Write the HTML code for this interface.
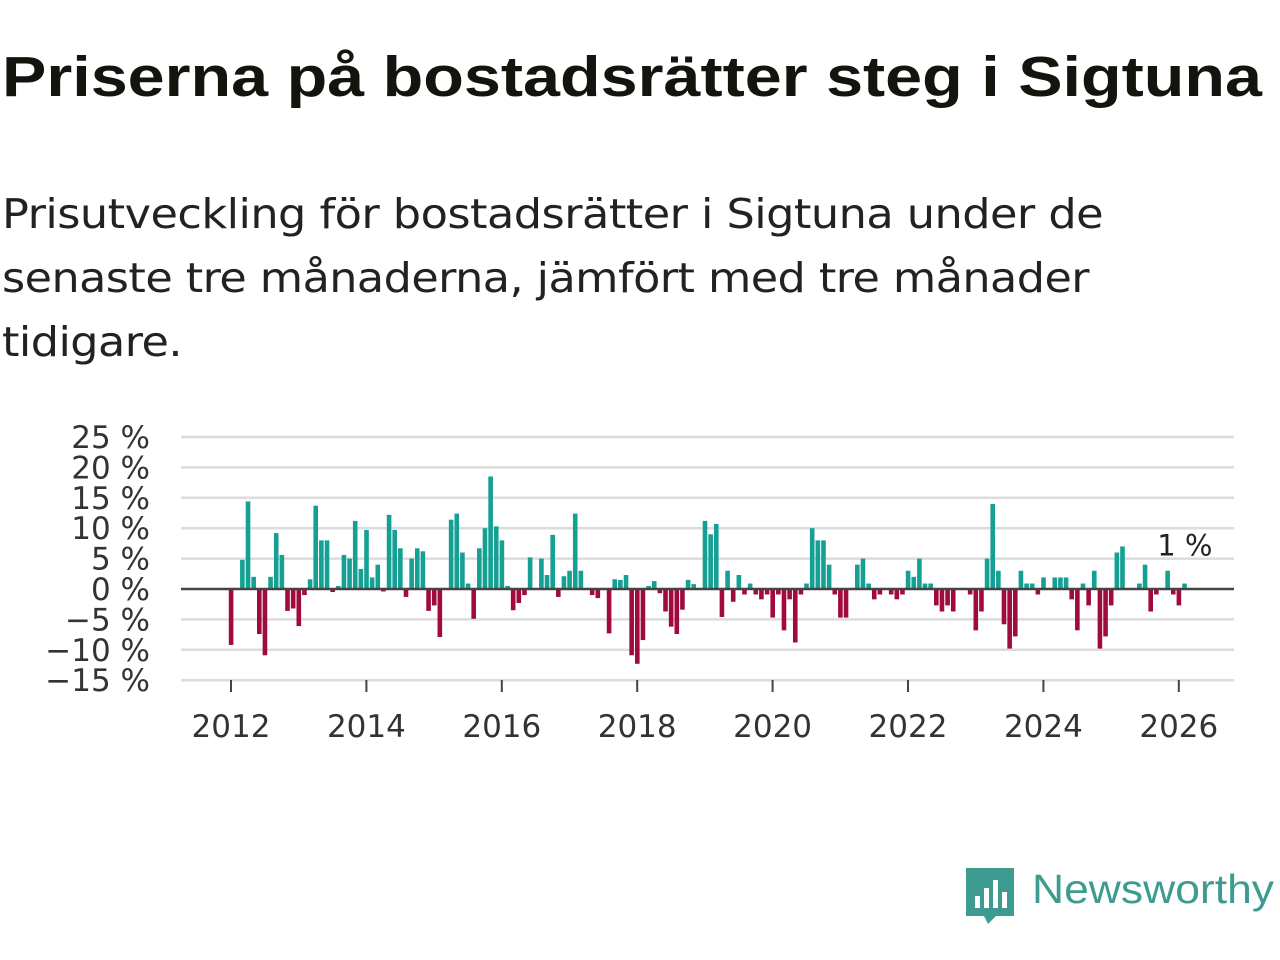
<!DOCTYPE html>
<html><head><meta charset="utf-8"><style>
body{margin:0;width:1280px;height:960px;background:#fff;font-family:"Liberation Sans","DejaVu Sans",sans-serif;overflow:hidden;position:relative}
.fit{position:absolute;left:2px;margin:0;white-space:nowrap;transform-origin:0 0;display:inline-block}
h1.fit{top:44px;font-size:57px;font-weight:bold;color:#14140f}
.sub{font-size:41px;color:#222;font-family:"DejaVu Sans",sans-serif;letter-spacing:-0.5px}
svg{position:absolute;left:0;top:0}
</style></head><body>
<h1 class="fit" data-w="1260">Priserna på bostadsrätter steg i Sigtuna</h1>
<span class="fit sub" style="top:190px" data-w="1101">Prisutveckling för bostadsrätter i Sigtuna under de</span>
<span class="fit sub" style="top:254px" data-w="1087">senaste tre månaderna, jämfört med tre månader</span>
<span class="fit sub" style="top:318px" data-w="180">tidigare.</span>
<svg id="chart" width="1280" height="960"></svg>
<script>
document.querySelectorAll('.fit').forEach(e=>{const w=e.getBoundingClientRect().width;e.style.transform='scaleX('+(parseFloat(e.dataset.w)/w)+')';});
const startYear = 2012;
const values = [
-9.2,0,4.8,14.4,2,-7.4,-10.9,2,9.2,5.6,-3.6,-3.2,
-6.1,-1,1.6,13.7,8,8,-0.5,0.5,5.6,5,11.2,3.3,
9.7,1.9,4,-0.4,12.2,9.7,6.7,-1.3,5,6.7,6.2,-3.6,
-2.7,-7.9,0,11.4,12.4,6,0.9,-4.9,6.7,10,18.5,10.3,
8,0.5,-3.5,-2.3,-1,5.2,0,5,2.3,8.9,-1.3,2.1,
3,12.4,3,0,-1,-1.5,0,-7.3,1.6,1.5,2.3,-10.9,
-12.3,-8.4,0.5,1.3,-0.7,-3.7,-6.2,-7.4,-3.4,1.5,0.8,0,
11.2,9,10.7,-4.6,3,-2.1,2.3,-0.9,0.9,-0.9,-1.7,-0.9,
-4.7,-0.9,-6.8,-1.7,-8.8,-0.9,0.9,10,8,8,4,-0.9,
-4.7,-4.7,0,4,5,0.9,-1.7,-0.9,0,-0.9,-1.7,-0.9,
3,2,5,0.9,0.9,-2.7,-3.7,-2.7,-3.7,0,0,-0.9,
-6.8,-3.7,5,14,3,-5.8,-9.8,-7.8,3,0.9,0.9,-0.9,
1.9,0,1.9,1.9,1.9,-1.7,-6.8,0.9,-2.7,3,-9.8,-7.8,
-2.7,6,7,0,0,0.9,4,-3.7,-0.9,0,3,-0.9,
-2.7,0.9];
const yTicks = [25,20,15,10,5,0,-5,-10,-15];
const xTicks = [2012,2014,2016,2018,2020,2022,2024,2026];
const lastLabel = "1 %";

const NS="http://www.w3.org/2000/svg";
const svg=document.getElementById('chart');
const y = v => 589 - v*6.08;
const x = t => 231 + (t - startYear)*67.7;
function mk(tag, attrs){const e=document.createElementNS(NS,tag);for(const k in attrs)e.setAttribute(k,attrs[k]);svg.appendChild(e);return e;}
yTicks.forEach(t=>{
  if(t!==0){const g=mk('line',{x1:181,x2:1234,y1:y(t),y2:y(t),stroke:'#dcdcdc','stroke-width':2.5});
  
  }
  const l=mk('text',{x:150,y:y(t)+11,'text-anchor':'end','font-size':31,fill:'#333','font-family':'DejaVu Sans, sans-serif'});
  l.textContent=(t<0?'\u2212'+(-t):t)+' %';
  
  
});
values.forEach((v,i)=>{
  const cx=x(startYear+i/12);
  const top=Math.min(y(v),y(0)), h=Math.abs(y(v)-y(0));
  const b=mk('rect',{x:cx-2.2,y:top,width:4.6,height:h,fill:v>=0?'#14a092':'#a00a3f'});
  
  
});
const z=mk('line',{x1:181,x2:1234,y1:y(0),y2:y(0),stroke:'#444','stroke-width':2.5});


xTicks.forEach(t=>{
  const tk=mk('line',{x1:x(t),x2:x(t),y1:680,y2:692,stroke:'#444','stroke-width':2});
  
  
  const l=mk('text',{x:x(t),y:737,'text-anchor':'middle','font-size':31,fill:'#333','font-family':'DejaVu Sans, sans-serif'});
  l.textContent=t;
  
  
});
const li=values.length-1;
const ann=mk('text',{x:x(startYear+li/12)+28,y:y(values[li])-28,'text-anchor':'end','font-size':29,fill:'#222','font-family':'DejaVu Sans, sans-serif'});
ann.textContent=lastLabel;


</script>
<svg width="1280" height="960" style="pointer-events:none">
<path d="M966 868 h48 v48 h-18 l-8 8 l-4 -8 h-18 z" fill="#3d9c8f"/>
<rect x="975" y="896" width="5" height="12" fill="#fff"/><rect x="984" y="888" width="5" height="20" fill="#fff"/><rect x="993" y="880" width="5" height="28" fill="#fff"/><rect x="1002" y="892" width="5" height="16" fill="#fff"/>
<text x="1032" y="903" font-size="41" fill="#3d9c8f" font-family="Liberation Sans, sans-serif" textLength="242" lengthAdjust="spacingAndGlyphs">Newsworthy</text>
</svg>
</body></html>
